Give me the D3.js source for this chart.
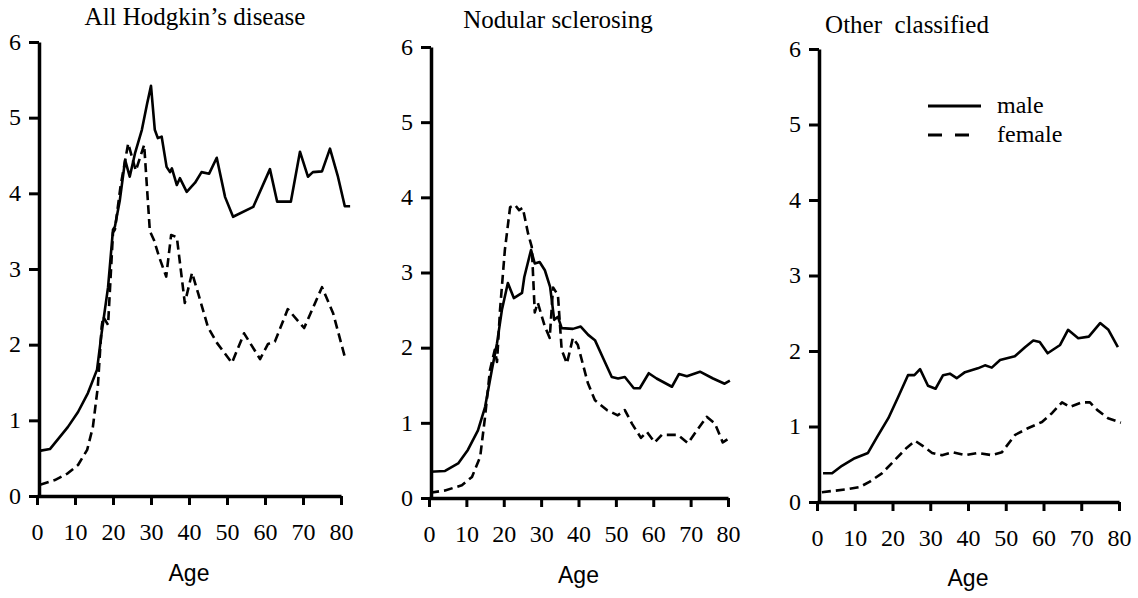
<!DOCTYPE html>
<html>
<head>
<meta charset="utf-8">
<script src="https://cdn.jsdelivr.net/npm/d3@7"></script>
<style>
  body { margin: 0; background: #fff; }
  svg { display: block; }
  .tick text { font-family: "Liberation Serif", "Times New Roman", serif; font-size: 24px; fill: #000; }
  .title, .legend { font-family: "Liberation Serif", "Times New Roman", serif; font-size: 24px; fill: #000; }
  .title { font-size: 25px; }
  .xlabel { font-family: "Liberation Sans", Arial, sans-serif; font-size: 23px; fill: #000; }
</style>
</head>
<body>
<script>
// age ticks and rate ticks shared by all panels
var ageTicks = [0, 10, 20, 30, 40, 50, 60, 70, 80];
var rateTicks = [0, 1, 2, 3, 4, 5, 6];
var panelTitles = ['All Hodgkin\u2019s disease', 'Nodular sclerosing', 'Other  classified'];
var legendLabels = ['male', 'female'];

// [age, rate]
var allMale = [[1,0.6],[3.4,0.62],[8.1,0.91],[10.8,1.11],[13.4,1.36],[15.8,1.67],[17,2.15],[18.7,2.76],[20,3.52],[20.5,3.56],[21.8,3.91],[23.2,4.44],[24.4,4.22],[25.8,4.53],[27.6,4.84],[29,5.19],[30,5.42],[31,4.84],[31.8,4.73],[32.8,4.75],[34.1,4.35],[35,4.28],[35.5,4.33],[36.8,4.11],[37.6,4.2],[39.4,4.02],[41.6,4.14],[43.3,4.28],[45.3,4.26],[47.3,4.47],[49.5,3.95],[51.6,3.69],[56.9,3.82],[61.3,4.32],[63.2,3.89],[66.8,3.89],[69.2,4.55],[71.3,4.22],[72.6,4.28],[75,4.29],[77.1,4.59],[79.2,4.22],[81,3.83],[82.4,3.83]];
var allFemale = [[0.8,0.15],[4.7,0.21],[8.1,0.3],[10.8,0.41],[13.2,0.61],[14.7,0.91],[16,1.44],[17,2.23],[17.4,2.37],[18.7,2.26],[20,3.48],[20.5,3.52],[22,4.1],[24,4.66],[26,4.3],[28.2,4.64],[29.7,3.5],[30.8,3.38],[32.2,3.15],[34,2.9],[35.3,3.45],[36.8,3.42],[38.9,2.55],[40.8,2.95],[42.4,2.68],[45,2.23],[47.4,2.02],[51.3,1.76],[54.5,2.15],[58.7,1.81],[60.8,2.01],[62.6,2.04],[66,2.47],[70.3,2.22],[75,2.76],[77.9,2.42],[81,1.84]];

var nsMale = [[0.3,0.35],[4.3,0.36],[7.8,0.46],[10.4,0.64],[13.1,0.9],[15,1.21],[16.8,1.7],[18.2,2.06],[19.5,2.5],[21.1,2.86],[22.7,2.66],[24.9,2.73],[25.5,2.94],[27.3,3.3],[28.3,3.12],[29.6,3.14],[31,3.03],[32.4,2.81],[33.5,2.37],[34.5,2.41],[35.5,2.26],[38.5,2.25],[40.6,2.28],[42.6,2.17],[44.4,2.1],[46.6,1.86],[48.9,1.61],[50.6,1.59],[52.4,1.61],[54.8,1.46],[56.4,1.46],[58.8,1.66],[60.9,1.59],[65,1.48],[66.9,1.65],[69,1.62],[72.5,1.68],[76,1.59],[79.1,1.52],[80.5,1.56]];
var nsFemale = [[0.3,0.07],[4.3,0.1],[8.8,0.17],[11.5,0.28],[13.7,0.55],[15,1.08],[16.3,1.7],[17.6,1.97],[18.2,1.81],[19,2.5],[20.3,3.3],[21.7,3.87],[23,3.9],[24.1,3.83],[25.1,3.86],[26.5,3.52],[27.5,3.34],[28.3,2.47],[29.1,2.6],[31,2.28],[32.3,2.13],[33.2,2.8],[34.5,2.7],[35.5,1.97],[36.9,1.79],[38.5,2.13],[39.8,2.04],[42.5,1.53],[44.4,1.3],[47.6,1.17],[50.5,1.1],[52.4,1.17],[54.3,0.99],[56.7,0.8],[58.3,0.88],[60.4,0.74],[62.3,0.84],[66.6,0.84],[69.3,0.73],[71.7,0.9],[74.3,1.08],[76.5,0.99],[78.6,0.74],[80.8,0.81]];

var ocMale = [[1.6,0.38],[4,0.38],[6.6,0.48],[10,0.58],[13.5,0.65],[15.9,0.86],[18.9,1.11],[21.5,1.39],[24.1,1.68],[25.8,1.68],[27.3,1.76],[29.4,1.54],[31.4,1.5],[33.4,1.68],[35.2,1.7],[37,1.64],[39.2,1.72],[42.6,1.77],[44.5,1.81],[46.3,1.78],[48.5,1.88],[52.4,1.93],[55.1,2.05],[57.3,2.14],[59,2.12],[61.1,1.97],[64.4,2.08],[66.5,2.28],[69.2,2.17],[72,2.19],[75,2.37],[77.2,2.28],[79.7,2.05]];
var ocFemale = [[1.3,0.13],[4.8,0.15],[8.2,0.17],[11.4,0.2],[14,0.27],[17.2,0.38],[20.7,0.56],[23.8,0.72],[26,0.81],[27.8,0.75],[30.5,0.65],[33.1,0.62],[35.8,0.66],[39.2,0.62],[42.6,0.65],[46.4,0.62],[49,0.66],[52.5,0.89],[56,0.98],[59.6,1.06],[62.3,1.18],[64.9,1.32],[67,1.26],[70.2,1.32],[72.3,1.32],[74.2,1.22],[77.1,1.11],[80.5,1.05]];

var panelData = [[allMale, allFemale], [nsMale, nsFemale], [ocMale, ocFemale]];

// pixel frame of each panel (x of age 0 and 80, y of rate 0 and 6)
var frames = [
    { x0: 37, x1: 341, y0: 496, y1: 42, titleX: 195, titleY: 25, ageY: 581 },
    { x0: 429, x1: 728, y0: 498, y1: 47, titleX: 558, titleY: 28, ageY: 583 },
    { x0: 817, x1: 1119, y0: 502, y1: 49, titleX: 907, titleY: 33, ageY: 586 }
];

var svg = d3.select('body').append('svg')
    .attr('width', 1138)
    .attr('height', 598);

frames.forEach(function (f, i) {
    var x = d3.scaleLinear().domain([0, 80]).range([f.x0, f.x1]);
    var y = d3.scaleLinear().domain([0, 6]).range([f.y0, f.y1]);
    var g = svg.append('g');

    var xAxis = g.append('g')
        .attr('transform', 'translate(0,' + f.y0 + ')')
        .call(d3.axisBottom(x).tickValues(ageTicks).tickFormat(d3.format('d'))
            .tickSize(9).tickSizeOuter(0).tickPadding(18));
    var yAxis = g.append('g')
        .attr('transform', 'translate(' + (f.x0 + 2) + ',0)')
        .call(d3.axisLeft(y).tickValues(rateTicks).tickFormat(d3.format('d'))
            .tickSize(10).tickSizeOuter(0).tickPadding(8));

    [xAxis, yAxis].forEach(function (a) {
        a.select('.domain').attr('stroke', '#000').attr('stroke-width', 3.5);
        a.selectAll('.tick line').attr('stroke', '#000').attr('stroke-width', 3);
    });
    yAxis.selectAll('.tick text').attr('dy', '0.3em');

    var line = d3.line()
        .x(function (d) { return x(d[0]); })
        .y(function (d) { return y(d[1]); });

    panelData[i].forEach(function (series, k) {
        g.append('path')
            .datum(series)
            .attr('d', line)
            .attr('fill', 'none')
            .attr('stroke', '#000')
            .attr('stroke-width', 2.6)
            .attr('stroke-linejoin', 'round')
            .attr('stroke-dasharray', k === 1 ? '9,5' : null);
    });

    g.append('text')
        .attr('class', 'title')
        .attr('x', f.titleX)
        .attr('y', f.titleY)
        .attr('text-anchor', 'middle')
        .style('white-space', 'pre')
        .text(panelTitles[i]);

    g.append('text')
        .attr('class', 'xlabel')
        .attr('x', x(40))
        .attr('y', f.ageY)
        .attr('text-anchor', 'middle')
        .text('Age');
});

// legend in the third panel
var legend = svg.append('g');
legendLabels.forEach(function (lab, k) {
    var ly = 106 + k * 29;
    legend.append('line')
        .attr('x1', 928).attr('x2', k === 1 ? 970 : 981)
        .attr('y1', ly).attr('y2', ly)
        .attr('stroke', '#000')
        .attr('stroke-width', 3)
        .attr('stroke-dasharray', k === 1 ? '14,13' : null);
    legend.append('text')
        .attr('class', 'legend')
        .attr('x', 997)
        .attr('y', ly + 7)
        .text(lab);
});
</script>
</body>
</html>
